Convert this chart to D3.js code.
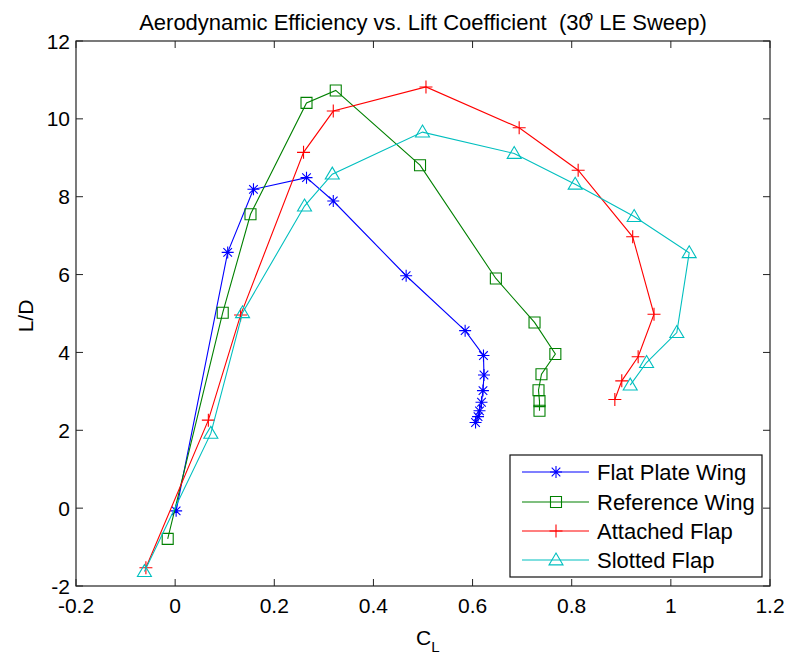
<!DOCTYPE html>
<html>
<head>
<meta charset="utf-8">
<script src="https://cdn.jsdelivr.net/npm/d3@7/dist/d3.min.js"></script>
<style>
  body { margin: 0; background: #fff; }
  text { font-family: "Liberation Sans", Arial, sans-serif; fill: #000; white-space: pre; }
</style>
</head>
<body>
<svg width="792" height="655"></svg>
<script>
// axis ticks
const xTicks = [-0.2, 0, 0.2, 0.4, 0.6, 0.8, 1, 1.2];
const yTicks = [-2, 0, 2, 4, 6, 8, 10, 12];

// series
const names = ["Flat Plate Wing", "Reference Wing", "Attached Flap", "Slotted Flap"];

const flatCL = [0.002, 0.106, 0.158, 0.265, 0.319, 0.466, 0.585, 0.622, 0.623, 0.621, 0.618, 0.614, 0.611, 0.606];
const flatLD = [-0.07, 6.57, 8.19, 8.49, 7.89, 5.97, 4.56, 3.92, 3.42, 3.02, 2.72, 2.50, 2.35, 2.20];

const refCL = [-0.015, 0.096, 0.152, 0.265, 0.324, 0.494, 0.647, 0.725, 0.767, 0.739, 0.733, 0.735, 0.735];
const refLD = [-0.79, 5.02, 7.55, 10.41, 10.73, 8.81, 5.90, 4.77, 3.96, 3.44, 3.03, 2.75, 2.50];

const attCL = [-0.059, 0.067, 0.132, 0.259, 0.319, 0.506, 0.694, 0.813, 0.923, 0.966, 0.934, 0.901, 0.887];
const attLD = [-1.53, 2.26, 4.96, 9.14, 10.20, 10.82, 9.77, 8.68, 6.97, 4.98, 3.89, 3.27, 2.79];

const sltCL = [-0.062, 0.072, 0.136, 0.261, 0.317, 0.499, 0.684, 0.807, 0.926, 1.037, 1.012, 0.951, 0.918];
const sltLD = [-1.63, 1.92, 5.02, 7.76, 8.58, 9.66, 9.11, 8.32, 7.49, 6.56, 4.51, 3.74, 3.16];

const colors = ["#0000ff", "#008000", "#ff0000", "#00bfbf"];
const markers = ["star", "square", "plus", "triangle"];

const series = [
  {cl: flatCL, ld: flatLD},
  {cl: refCL, ld: refLD},
  {cl: attCL, ld: attLD},
  {cl: sltCL, ld: sltLD}
];

let svg = d3.select("svg");
let pl = 76, pr = 770, pt = 41, pb = 586;

let x = d3.scaleLinear().domain([-0.2, 1.2]).range([pl, pr]);
let y = d3.scaleLinear().domain([-2, 12]).range([pb, pt]);

// marker shapes, centred on 0,0
function markerPath(type) {
  if (type === "star") {
    let r = 6, d = 4.3;
    return `M${-r},0H${r}M0,${-r}V${r}M${-d},${-d}L${d},${d}M${-d},${d}L${d},${-d}`;
  }
  if (type === "square") {
    let s = 5.5;
    return `M${-s},${-s}H${s}V${s}H${-s}Z`;
  }
  if (type === "plus") {
    let r = 6.5;
    return `M${-r},0H${r}M0,${-r}V${r}`;
  }
  // triangle
  let h = 7;
  return `M0,${-h}L${h},${h * 0.7}L${-h},${h * 0.7}Z`;
}

// box + ticks
let g = svg.append("g");
g.append("rect")
  .attr("x", pl).attr("y", pt)
  .attr("width", pr - pl).attr("height", pb - pt)
  .attr("fill", "none").attr("stroke", "#222").attr("stroke-width", 1.2);

let tl = 7;
g.selectAll(".xt").data(xTicks).enter().append("path")
  .attr("d", d => `M${x(d)},${pb}v${-tl}M${x(d)},${pt}v${tl}`)
  .attr("stroke", "#222").attr("stroke-width", 1);
g.selectAll(".yt").data(yTicks).enter().append("path")
  .attr("d", d => `M${pl},${y(d)}h${tl}M${pr},${y(d)}h${-tl}`)
  .attr("stroke", "#222").attr("stroke-width", 1);

g.selectAll(".xl").data(xTicks).enter().append("text")
  .attr("x", d => x(d)).attr("y", 613)
  .attr("text-anchor", "middle").attr("font-size", 21)
  .text(d => String(d));
g.selectAll(".yl").data(yTicks).enter().append("text")
  .attr("x", 70).attr("y", d => y(d) + 7.5)
  .attr("text-anchor", "end").attr("font-size", 21)
  .text(d => String(d));

// axis titles
let xl = g.append("text").attr("x", 416).attr("y", 645)
  .attr("font-size", 21);
xl.append("tspan").text("C");
xl.append("tspan").attr("font-size", 15).attr("dy", 7).text("L");

g.append("text")
  .attr("transform", "translate(33,316) rotate(-90)")
  .attr("text-anchor", "middle").attr("font-size", 21)
  .text("L/D");

// title with the raised "o" sitting over the zero, as in the original
let tt = g.append("text").attr("x", 423).attr("y", 30)
  .attr("text-anchor", "middle").attr("font-size", 22);
tt.append("tspan").text("Aerodynamic Efficiency vs. Lift Coefficient  (30");
tt.append("tspan").attr("font-size", 15).attr("dx", -6).attr("dy", -9).text("o");
tt.append("tspan").attr("dy", 9).text(" LE Sweep)");

// lines and markers
let line = d3.line().x(d => x(d[0])).y(d => y(d[1]));

series.forEach((s, i) => {
  let pts = s.cl.map((c, k) => [c, s.ld[k]]);
  svg.append("path")
    .datum(pts)
    .attr("d", line)
    .attr("fill", "none")
    .attr("stroke", colors[i])
    .attr("stroke-width", 1.1);
  svg.append("g").selectAll("path").data(pts).enter().append("path")
    .attr("transform", d => `translate(${x(d[0])},${y(d[1])})`)
    .attr("d", markerPath(markers[i]))
    .attr("fill", "none")
    .attr("stroke", colors[i])
    .attr("stroke-width", 1.1);
});

// legend
let lg = svg.append("g");
lg.append("rect")
  .attr("x", 510).attr("y", 455).attr("width", 252).attr("height", 122)
  .attr("fill", "#fff").attr("stroke", "#111").attr("stroke-width", 1.2);
let legendY = [472, 502, 531, 560];
names.forEach((n, i) => {
  lg.append("path")
    .attr("d", `M522,${legendY[i]}H589`)
    .attr("stroke", colors[i]).attr("stroke-width", 1.1);
  lg.append("path")
    .attr("transform", `translate(556,${legendY[i]})`)
    .attr("d", markerPath(markers[i]))
    .attr("fill", "none").attr("stroke", colors[i]).attr("stroke-width", 1.1);
  lg.append("text")
    .attr("x", 597).attr("y", legendY[i] + 8)
    .attr("font-size", 22)
    .text(n);
});
</script>
</body>
</html>
